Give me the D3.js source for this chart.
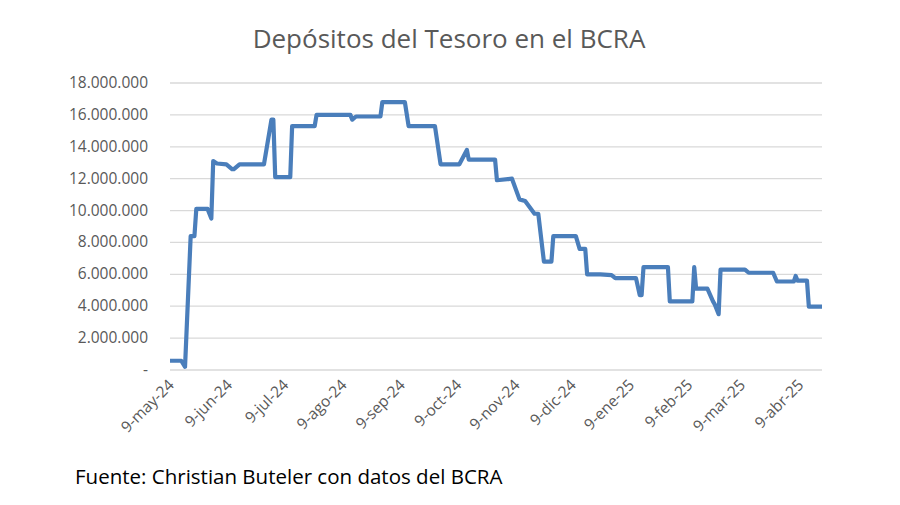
<!DOCTYPE html>
<html>
<head>
<meta charset="utf-8">
<script src="https://cdn.jsdelivr.net/npm/d3@7"></script>
<style>
  body { margin: 0; background: #fff; font-family: "Open Sans", sans-serif; }
</style>
</head>
<body>
<div id="chart"></div>
<script>
// depósitos (pesos)
var fechas = ["2024-05-09","2024-05-10","2024-05-15","2024-05-17","2024-05-20","2024-05-22","2024-05-23","2024-05-29",
  "2024-05-31","2024-06-01","2024-06-03","2024-06-08","2024-06-11","2024-06-12","2024-06-15","2024-06-28",
  "2024-07-02","2024-07-03","2024-07-04","2024-07-12","2024-07-13","2024-07-25","2024-07-26","2024-08-13",
  "2024-08-14","2024-08-16","2024-08-29","2024-08-30","2024-09-11","2024-09-13","2024-09-27","2024-09-30",
  "2024-10-10","2024-10-14","2024-10-15","2024-10-29","2024-10-30","2024-11-07","2024-11-11","2024-11-14",
  "2024-11-19","2024-11-21","2024-11-24","2024-11-28","2024-11-29","2024-12-11","2024-12-13","2024-12-16",
  "2024-12-17","2024-12-24","2024-12-30","2025-01-01","2025-01-12","2025-01-14","2025-01-15","2025-01-16",
  "2025-01-29","2025-01-30","2025-02-11","2025-02-12","2025-02-13","2025-02-19","2025-02-22","2025-02-23",
  "2025-02-25","2025-02-26","2025-03-11","2025-03-13","2025-03-26","2025-03-28","2025-04-06","2025-04-07",
  "2025-04-08","2025-04-13","2025-04-14","2025-04-21"];
var depositos = [580000,580000,580000,200000,8400000,8400000,10100000,10100000,
  9500000,13100000,12950000,12900000,12600000,12600000,12900000,12900000,
  15700000,15700000,12100000,12100000,15300000,15300000,16000000,16000000,
  15700000,15900000,15900000,16800000,16800000,15300000,15300000,12900000,
  12900000,13800000,13200000,13200000,11900000,12000000,10700000,10600000,
  9800000,9800000,6800000,6800000,8400000,8400000,7600000,7600000,
  6000000,6000000,5950000,5760000,5760000,4700000,4700000,6450000,
  6450000,4300000,4300000,6450000,5100000,5100000,4300000,4100000,
  3500000,6300000,6300000,6100000,6100000,5550000,5550000,5900000,
  5600000,5600000,3980000,3980000];
var ticksX = ["2024-05-09","2024-06-09","2024-07-09","2024-08-09","2024-09-09","2024-10-09",
  "2024-11-09","2024-12-09","2025-01-09","2025-02-09","2025-03-09","2025-04-09"];
var mesesEs = ["ene","feb","mar","abr","may","jun","jul","ago","sep","oct","nov","dic"];
var ticksY = [0,2000000,4000000,6000000,8000000,10000000,12000000,14000000,16000000,18000000];

var width = 900, height = 505;
var parse = d3.timeParse("%Y-%m-%d");
var data = fechas.map(function(f, i) { return {fecha: parse(f), valor: depositos[i]}; });

var svg = d3.select("#chart").append("svg").attr("width", width).attr("height", height);

var x = d3.scaleTime().domain([parse("2024-05-09"), parse("2025-04-21")]).range([170, 822]);
var y = d3.scaleLinear().domain([0, 18000000]).range([370, 83]);

// gridlines
svg.selectAll(".grid").data(ticksY).enter().append("line")
  .attr("x1", 170).attr("x2", 822)
  .attr("y1", function(d) { return y(d); }).attr("y2", function(d) { return y(d); })
  .attr("stroke", "#d9d9d9").attr("stroke-width", 1.3);

// y labels
var fmt = d3.formatLocale({decimal: ",", thousands: ".", grouping: [3], currency: ["$", ""]}).format(",");
svg.selectAll(".ylab").data(ticksY).enter().append("text")
  .attr("x", 148).attr("y", function(d) { return y(d) + 5; })
  .attr("text-anchor", "end").attr("font-size", 15.5).attr("fill", "#595959")
  .text(function(d) { return d === 0 ? "-" : fmt(d); });

// x labels, rotated
svg.selectAll(".xlab").data(ticksX).enter().append("text")
  .attr("transform", function(d) { return "translate(" + (x(parse(d)) + 5) + ",386) rotate(-45)"; })
  .attr("text-anchor", "end").attr("font-size", 15.5).attr("fill", "#595959")
  .text(function(d) {
    var p = parse(d);
    return p.getDate() + "-" + mesesEs[p.getMonth()] + "-" + String(p.getFullYear()).slice(2);
  });

// line
svg.append("path").datum(data)
  .attr("fill", "none").attr("stroke", "#4a7ebb").attr("stroke-width", 4.2)
  .attr("stroke-linejoin", "round")
  .attr("d", d3.line().x(function(d) { return x(d.fecha); }).y(function(d) { return y(d.valor); }));

// title
svg.append("text").attr("x", 449).attr("y", 48).attr("text-anchor", "middle")
  .attr("font-size", 26).attr("fill", "#595959").text("Depósitos del Tesoro en el BCRA");

// source
svg.append("text").attr("x", 75).attr("y", 484)
  .attr("font-size", 20.5).attr("fill", "#000").text("Fuente: Christian Buteler con datos del BCRA");
</script>
</body>
</html>
